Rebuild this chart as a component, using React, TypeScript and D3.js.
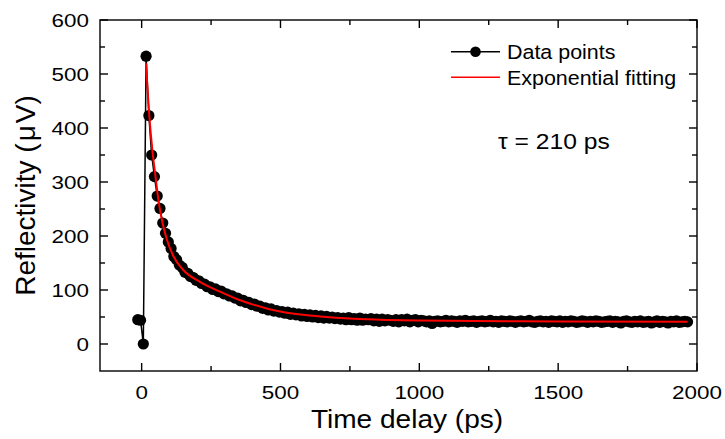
import React from 'react';
import * as d3 from 'd3';

// measured pump-probe trace (ps, µV)
const delays = [
  -14, -4, 6, 16, 26, 36, 46, 56, 66, 76, 86, 96,
  106, 116, 126, 136, 146, 156, 166, 176, 186, 196,
  206, 216, 226, 236, 246, 256, 266, 276, 286, 296,
  306, 316, 326, 336, 346, 356, 366, 376, 386, 396,
  406, 416, 426, 436, 446, 456, 466, 476, 486, 496,
  506, 516, 526, 536, 546, 556, 566, 576, 586, 596,
  606, 616, 626, 636, 646, 656, 666, 676, 686, 696,
  706, 716, 726, 736, 746, 756, 766, 776, 786, 796,
  806, 816, 826, 836, 846, 856, 866, 876, 886, 896,
  906, 916, 926, 936, 946, 956, 966, 976, 986, 996,
  1006, 1016, 1026, 1036, 1046, 1056, 1066, 1076, 1086, 1096,
  1106, 1116, 1126, 1136, 1146, 1156, 1166, 1176, 1186, 1196,
  1206, 1216, 1226, 1236, 1246, 1256, 1266, 1276, 1286, 1296,
  1306, 1316, 1326, 1336, 1346, 1356, 1366, 1376, 1386, 1396,
  1406, 1416, 1426, 1436, 1446, 1456, 1466, 1476, 1486, 1496,
  1506, 1516, 1526, 1536, 1546, 1556, 1566, 1576, 1586, 1596,
  1606, 1616, 1626, 1636, 1646, 1656, 1666, 1676, 1686, 1696,
  1706, 1716, 1726, 1736, 1746, 1756, 1766, 1776, 1786, 1796,
  1806, 1816, 1826, 1836, 1846, 1856, 1866, 1876, 1886, 1896,
  1906, 1916, 1926, 1936, 1946, 1956, 1966,
];

const reflectivity = [
  45, 44, 0, 533, 423, 350, 310, 274, 251, 224, 205, 189,
  177, 162, 156, 146, 142, 133, 131, 125, 123, 118,
  117, 112, 111, 106, 106, 101, 102, 97, 98, 93,
  93, 89, 89, 85, 85, 80, 81, 77, 77, 73,
  74, 70, 70, 66, 67, 63, 65, 61, 62, 59,
  60, 57, 59, 55, 57, 54, 56, 52, 55, 51,
  54, 50, 53, 49, 52, 48, 51, 48, 50, 47,
  49, 46, 48, 45, 49, 45, 47, 44, 48, 44,
  46, 45, 47, 43, 46, 42, 46, 43, 45, 44,
  42, 45, 41, 45, 43, 46, 41, 44, 45, 41,
  44, 43, 41, 43, 38, 42, 43, 41, 42, 44,
  41, 43, 42, 40, 43, 42, 44, 41, 42, 43,
  40, 42, 43, 41, 42, 44, 41, 42, 40, 43,
  42, 41, 43, 42, 40, 42, 43, 41, 42, 44,
  41, 40, 42, 43, 41, 42, 40, 43, 42, 41,
  43, 40, 42, 41, 43, 42, 40, 41, 43, 42,
  40, 42, 41, 43, 42, 40, 41, 42, 43, 40,
  42, 41, 39, 42, 43, 41, 40, 42, 41, 43,
  40, 41, 42, 39, 41, 43, 40, 42, 41, 39,
  42, 41, 43, 40, 41, 42, 41,
];

// exponential fit
const fitDelays = [16, 22, 28, 35, 42, 50, 60, 72, 90, 114, 150, 210, 282, 350, 402, 460, 523, 580, 643, 700, 763, 883, 1003, 1200, 1500, 1966];
const fitValues = [520, 465, 420, 378, 343, 310, 268, 232, 195, 163, 137, 115, 97, 82, 73, 64.5, 58, 54, 51, 48.8, 46.8, 44.6, 43.4, 42.4, 41.8, 41.3];

const xTicks = [0, 500, 1000, 1500, 2000];
const xMinor = [250, 750, 1250, 1750];
const yTicks = [0, 100, 200, 300, 400, 500, 600];
const yMinor = [50, 150, 250, 350, 450, 550];

const FONT = 'Liberation Sans, Arial, sans-serif';

const WideText = ({ x, y, sx = 1.15, size, anchor = 'start', children }: any) => (
    <text transform={`translate(${x},${y}) scale(${sx},1)`} fontSize={size}
        textAnchor={anchor} fontFamily={FONT} fill="#000">{children}</text>
);

const App = () => {
    const left = 100, right = 697, top = 20, bottom = 371;

    const x = d3.scaleLinear().domain([-150, 2000]).range([left, right]);
    const y = d3.scaleLinear().domain([-50, 600]).range([bottom, top]);

    const points = delays.map((t, i) => [t, reflectivity[i]]);
    const fit = fitDelays.map((t, i) => [t, fitValues[i]]);

    const dataLine = d3.line().x(d => x(d[0])).y(d => y(d[1]));
    const fitLine = d3.line().x(d => x(d[0])).y(d => y(d[1])).curve(d3.curveMonotoneX);

    const major = 8, minor = 5;

    return (
        <svg width={725} height={439} style={{ position: 'absolute', left: 0, top: 0, background: '#fff' }}>
            {/* frame + mirrored inward ticks */}
            <g stroke="#000" strokeWidth={1.4} fill="none">
                <rect x={left} y={top} width={right - left} height={bottom - top} />
                {xTicks.concat(xMinor).map(t => {
                    const len = xTicks.includes(t) ? major : minor;
                    return (
                        <g key={'x' + t}>
                            <line x1={x(t)} x2={x(t)} y1={bottom} y2={bottom - len} />
                            <line x1={x(t)} x2={x(t)} y1={top} y2={top + len} />
                        </g>
                    );
                })}
                {yTicks.concat(yMinor).map(v => {
                    const len = yTicks.includes(v) ? major : minor;
                    return (
                        <g key={'y' + v}>
                            <line x1={left} x2={left + len} y1={y(v)} y2={y(v)} />
                            <line x1={right} x2={right - len} y1={y(v)} y2={y(v)} />
                        </g>
                    );
                })}
            </g>

            {xTicks.map(t => (
                <WideText key={'xl' + t} x={x(t)} y={399} size={19} sx={1.18} anchor="middle">{t}</WideText>
            ))}
            {yTicks.map(v => (
                <WideText key={'yl' + v} x={89} y={y(v) + 6.8} size={19} sx={1.18} anchor="end">{v}</WideText>
            ))}

            <WideText x={407} y={428} size={25.5} sx={1.1} anchor="middle">Time delay (ps)</WideText>
            <text transform={`translate(35,${(top + bottom) / 2}) rotate(-90)`} fontSize={28}
                fontFamily={FONT} textAnchor="middle">
                Reflectivity (<tspan dx={2}>μ</tspan><tspan dx={2}>V)</tspan>
            </text>

            {/* data */}
            <path d={dataLine(points as any) || ''} fill="none" stroke="#000" strokeWidth={1.5} />
            {points.map((p, i) => (
                <circle key={i} cx={x(p[0])} cy={y(p[1])} r={5.6} fill="#000" />
            ))}
            <path d={fitLine(fit as any) || ''} fill="none" stroke="#ff0000" strokeWidth={2} />

            {/* legend */}
            <line x1={451} x2={500} y1={51.7} y2={51.7} stroke="#000" strokeWidth={1.5} />
            <circle cx={475.5} cy={51.7} r={5.3} fill="#000" />
            <WideText x={507} y={58.5} size={19.5} sx={1.1}>Data points</WideText>
            <line x1={451} x2={500} y1={77.3} y2={77.3} stroke="#ff0000" strokeWidth={1.5} />
            <WideText x={507} y={84.5} size={19.5} sx={1.1}>Exponential fitting</WideText>

            <WideText x={498} y={149} size={22} sx={1.12}>τ = 210 ps</WideText>
        </svg>
    );
};

export default App;
